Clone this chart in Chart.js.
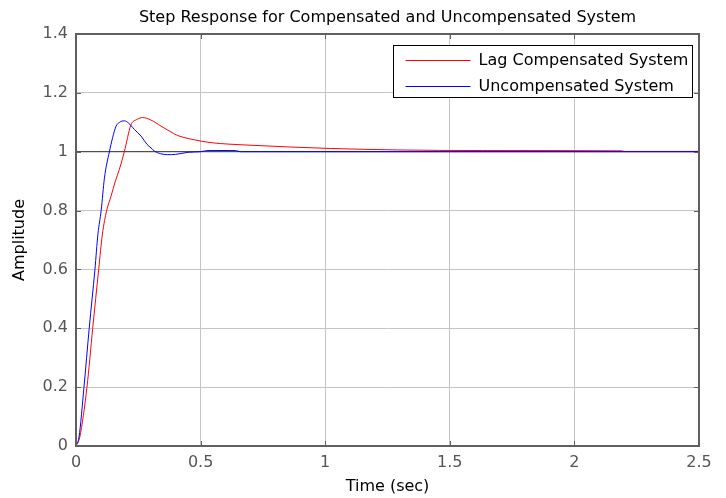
<!DOCTYPE html>
<html>
<head>
<meta charset="utf-8">
<script src="https://cdn.jsdelivr.net/npm/chart.js@4/dist/chart.umd.min.js"></script>
<style>
    html, body { margin: 0; padding: 0; background: #fff; }
    #wrap { width: 726px; height: 498px; }
</style>
</head>
<body>
<div id="wrap"><canvas id="chart" width="726" height="498"></canvas></div>
<script>
'use strict';

// Step responses (time in sec, amplitude)
const tLag = [0, 0.015, 0.044, 0.067, 0.091, 0.106, 0.123, 0.141, 0.158, 0.174, 0.194, 0.22, 0.245, 0.268, 0.3, 0.341, 0.375, 0.408, 0.45, 0.502, 0.55, 0.61, 0.73, 0.86, 1.02, 1.29, 1.63, 2.19, 2.2, 2.5];
const yLag = [0, 0.03, 0.2, 0.4, 0.6, 0.72, 0.8, 0.85, 0.9, 0.94, 1.0, 1.09, 1.11, 1.116, 1.108, 1.087, 1.07, 1.055, 1.045, 1.036, 1.03, 1.026, 1.021, 1.016, 1.011, 1.006, 1.004, 1.003, 1.001, 1.001];

const tUnc = [0, 0.012, 0.032, 0.053, 0.076, 0.088, 0.101, 0.114, 0.134, 0.16, 0.175, 0.194, 0.21, 0.235, 0.261, 0.285, 0.301, 0.315, 0.34, 0.368, 0.4, 0.45, 0.5, 0.53, 0.64, 0.66, 1.0, 1.5, 2.0, 2.5];
const yUnc = [0, 0.03, 0.2, 0.4, 0.6, 0.72, 0.8, 0.91, 1.0, 1.085, 1.1, 1.105, 1.098, 1.075, 1.053, 1.025, 1.013, 1.002, 0.993, 0.99, 0.991, 0.998, 1.0, 1.004, 1.004, 1.0, 1.0, 1.0, 1.0, 1.0];

const seriesNames = ['Lag Compensated System', 'Uncompensated System'];
const seriesColors = ['#ff0000', '#0000ff'];
const steadyState = 1;

const xTicks = [0, 0.5, 1, 1.5, 2, 2.5];
const yTicks = [0, 0.2, 0.4, 0.6, 0.8, 1, 1.2, 1.4];

const chartTitle = 'Step Response for Compensated and Uncompensated System';
const FONT = 'DejaVu Sans';
const FONT_SIZE = 16;

function toPoints(t, y) {
    return t.map((x, i) => ({ x: x, y: y[i] }));
}

function fmt(v) {
    return String(Math.round(v * 10) / 10);
}

// Title over the axes, box round them, inward tick marks and the legend box
const framePlugin = {
    id: 'frame',
    afterDatasetsDraw(chart) {
        const { ctx, chartArea: a, scales } = chart;
        ctx.save();

        ctx.fillStyle = '#000000';
        ctx.font = FONT_SIZE + 'px "' + FONT + '"';
        ctx.textAlign = 'center';
        ctx.textBaseline = 'middle';
        ctx.fillText(chartTitle, (a.left + a.right) / 2, 18);

        ctx.strokeStyle = '#606060';
        ctx.lineWidth = 1;
        ctx.beginPath();
        xTicks.forEach(v => {
            const px = Math.round(scales.x.getPixelForValue(v)) + 0.5;
            ctx.moveTo(px, a.bottom); ctx.lineTo(px, a.bottom - 5);
            ctx.moveTo(px, a.top); ctx.lineTo(px, a.top + 5);
        });
        yTicks.forEach(v => {
            const py = Math.round(scales.y.getPixelForValue(v)) + 0.5;
            ctx.moveTo(a.left, py); ctx.lineTo(a.left + 5, py);
            ctx.moveTo(a.right, py); ctx.lineTo(a.right - 5, py);
        });
        ctx.stroke();

        ctx.lineWidth = 2;
        ctx.strokeRect(a.left, a.top, a.right - a.left, a.bottom - a.top);

        // legend
        const w = 299, h = 52;
        const bx = Math.round(a.right - 7 - w) + 0.5;
        const by = Math.round(a.top + 11) + 0.5;
        ctx.fillStyle = '#ffffff';
        ctx.fillRect(bx, by, w, h);
        ctx.strokeStyle = '#000000';
        ctx.lineWidth = 1;
        ctx.strokeRect(bx, by, w, h);

        ctx.textAlign = 'left';
        seriesNames.forEach((name, i) => {
            const ry = Math.round(by + 14 + i * 26) + 0.5;
            ctx.strokeStyle = seriesColors[i];
            ctx.beginPath();
            ctx.moveTo(bx + 12, ry);
            ctx.lineTo(bx + 77, ry);
            ctx.stroke();
            ctx.fillStyle = '#000000';
            ctx.fillText(name, bx + 85, ry);
        });

        ctx.restore();
    }
};

const tickFont = { family: FONT, size: FONT_SIZE };

new Chart(document.getElementById('chart'), {
    type: 'line',
    data: {
        datasets: [
            {
                label: seriesNames[1],
                data: toPoints(tUnc, yUnc),
                borderColor: seriesColors[1],
                borderWidth: 1,
                pointRadius: 0,
                cubicInterpolationMode: 'monotone',
                order: 1
            },
            {
                label: seriesNames[0],
                data: toPoints(tLag, yLag),
                borderColor: seriesColors[0],
                borderWidth: 1,
                pointRadius: 0,
                cubicInterpolationMode: 'monotone',
                order: 2
            },
            {
                label: 'Steady state',
                data: [{ x: xTicks[0], y: steadyState }, { x: xTicks[xTicks.length - 1], y: steadyState }],
                borderColor: '#333333',
                borderWidth: 1,
                pointRadius: 0,
                order: 3
            }
        ]
    },
    options: {
        responsive: false,
        devicePixelRatio: 1,
        animation: false,
        layout: {
            padding: { left: 0, right: 27, top: 34, bottom: 0 }
        },
        plugins: {
            legend: { display: false },
            tooltip: { enabled: false },
            title: { display: false }
        },
        scales: {
            x: {
                type: 'linear',
                min: 0,
                max: 2.5,
                afterBuildTicks: scale => { scale.ticks = xTicks.map(v => ({ value: v })); },
                afterFit: scale => { scale.height = 52; },
                grid: { color: '#c4c4c4', drawTicks: false },
                border: { display: false },
                ticks: {
                    padding: 7,
                    maxRotation: 0,
                    autoSkip: false,
                    color: '#555555',
                    font: tickFont,
                    callback: v => fmt(v)
                },
                title: {
                    display: true,
                    text: 'Time (sec)',
                    color: '#000000',
                    font: tickFont,
                    padding: { top: 0, bottom: 2 }
                }
            },
            y: {
                type: 'linear',
                min: 0,
                max: 1.4,
                afterBuildTicks: scale => { scale.ticks = yTicks.map(v => ({ value: v })); },
                afterFit: scale => { scale.width = 76; },
                grid: { color: '#c4c4c4', drawTicks: false },
                border: { display: false },
                ticks: {
                    padding: 8,
                    autoSkip: false,
                    color: '#555555',
                    font: tickFont,
                    callback: v => fmt(v)
                },
                title: {
                    display: true,
                    text: 'Amplitude',
                    color: '#000000',
                    font: tickFont,
                    padding: { top: 10, bottom: 0 }
                }
            }
        }
    },
    plugins: [framePlugin]
});
</script>
</body>
</html>
